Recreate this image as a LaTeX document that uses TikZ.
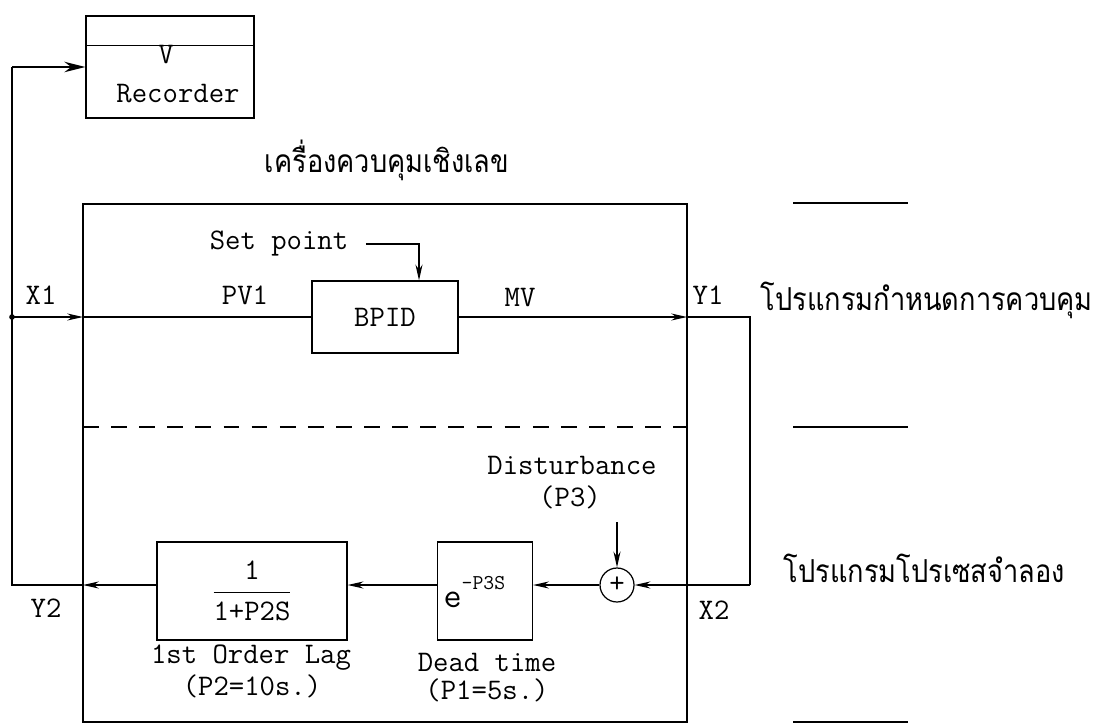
\documentclass[tikz,border=0pt]{standalone}
\usepackage{amsmath}
\usepackage{fontspec}
\newfontfamily\thaifont[Script=Thai, FakeStretch=0.86]{Loma}
\usetikzlibrary{arrows.meta,calc}
\tikzset{
  sig/.style={-{Stealth[length=9pt,width=4pt]}},
  bigsig/.style={-{Stealth[length=12pt,width=6pt]}, line width=1pt},
  blockbox/.style={draw, rectangle, inner sep=0pt},
  lbl/.style={font=\ttfamily\fontsize{17}{19}\selectfont, inner sep=0pt},
  thlbl/.style={font=\thaifont\fontsize{18}{20}\selectfont, inner sep=0pt},
}

\begin{document}
\begin{tikzpicture}[x=0.02cm, y=-0.02cm, line width=0.7pt]
\useasboundingbox (0,0) rectangle (1097,726);

% --- Recorder ---
\node[blockbox, minimum width=3.36cm, minimum height=2.04cm] (rec) at (170,67) {};
\draw ($(rec.north west)!0.294!(rec.south west)$) -- ($(rec.north east)!0.294!(rec.south east)$);
\node[lbl] (recv) at (166,55) {V};
\node[lbl] (rectxt) at (178,94) {Recorder};

% --- Digital controller frame ---
\node[thlbl] (ctrltitle) at (387,160) {เครื่องควบคุมเชิงเลข};
\draw (83,204) rectangle (687,722);
\draw[dash pattern=on 9pt off 7pt] (83,427) -- (687,427);

% short marks on the right
\draw (793,203) -- (908,203);
\draw (793,427) -- (908,427);
\draw (793,722) -- (908,722);

% --- Control loop (upper part) ---
\coordinate (x1) at (12,317);
\coordinate (fin) at (83,317);
\coordinate (fout) at (687,317);
\coordinate (y1c) at (750,317);
\coordinate (x2c) at (750,585);

\node[blockbox, lbl, minimum width=2.92cm, minimum height=1.44cm] (bpid) at (385,317) {BPID};
\node[lbl, inner xsep=0.34cm] (sptxt) at (279,244) {Set point};
\coordinate (spc) at (419,244);
\draw[sig] (sptxt.east) -- (spc) -- (spc |- bpid.north);

\fill (x1) circle (1.6pt);
\draw[sig] (x1) -- (fin);
\draw (fin) -- (bpid.west);
\draw[sig] (bpid.east) -- (fout);
\draw (fout) -- (y1c) -- (x2c);

\node[lbl] (x1lbl) at (41,295) {X1};
\node[lbl] (pv1lbl) at (245,295) {PV1};
\node[lbl] (mvlbl) at (520,298) {MV};
\node[lbl] (y1lbl) at (708,295) {Y1};

\node[thlbl, anchor=west] (progctrl) at (760,300) {โปรแกรมกำหนดการควบคุม};
\node[thlbl, anchor=west] (progproc) at (783,568) {โปรแกรมโปรเซสจำลอง};

% --- Process model (lower part) ---
\node[circle, draw, lbl, minimum size=0.68cm] (sum) at (617,585) {+};
\node[lbl] (disttxt) at (572,465) {Disturbance};
\node[lbl] (p3txt) at (570,497) {(P3)};
\coordinate (dstart) at (617,522);
\draw[sig] (dstart) -- (sum.north);
\draw[sig] (x2c) -- (sum.east);

\node[blockbox, minimum width=1.9cm, minimum height=1.96cm] (dead) at (485,591) {};
\node[lbl, anchor=west] (deadexp) at (443,592) {{\fontsize{20}{20}\selectfont e}\raisebox{10pt}{\fontsize{12}{12}\selectfont -P3S}};
\node[lbl] (deadtxt) at (487,662) {Dead time};
\node[lbl] (p1txt) at (487,690) {(P1=5s.)};

\node[blockbox, lbl, minimum width=3.8cm, minimum height=1.96cm] (lag) at (252,591) {$\dfrac{\mbox{1}}{\mbox{1+P2S}}$};
\node[lbl] (lagtxt) at (251,658) {1st Order Lag};
\node[lbl] (p2txt) at (252,686) {(P2=10s.)};

\coordinate (fin2) at (83,585);
\coordinate (y2c) at (12,585);
\draw[sig] (sum.west) -- (dead.east |- sum.west);
\draw[sig] (dead.west |- sum.west) -- (lag.east |- sum.west);
\draw[sig] (lag.west |- sum.west) -- (fin2);
\draw (fin2) -- (y2c) -- (y2c |- rec.west);
\draw[bigsig] (y2c |- rec.west) -- (rec.west);

\node[lbl] (y2lbl) at (46,608) {Y2};
\node[lbl] (x2lbl) at (714,610) {X2};
\end{tikzpicture}
\end{document}
